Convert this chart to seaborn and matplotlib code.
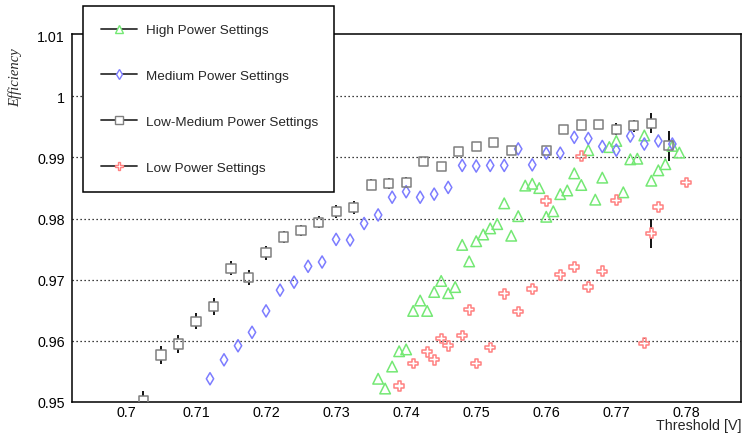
import numpy as np
import pandas as pd
import matplotlib
matplotlib.use("Agg")
import matplotlib.pyplot as plt
import seaborn as sns
from matplotlib.lines import Line2D
from matplotlib.ticker import MultipleLocator, FixedLocator

# ---------------- data ----------------
series_labels = ["High Power Settings", "Medium Power Settings",
                 "Low-Medium Power Settings", "Low Power Settings"]

high_x = [0.736, 0.737, 0.738, 0.739, 0.740, 0.741, 0.742, 0.743, 0.744, 0.745,
          0.746, 0.747, 0.748, 0.749, 0.750, 0.751, 0.752, 0.753, 0.754, 0.755,
          0.756, 0.757, 0.758, 0.759, 0.760, 0.761, 0.762, 0.763, 0.764, 0.765,
          0.766, 0.767, 0.768, 0.769, 0.770, 0.771, 0.772, 0.773, 0.774, 0.775,
          0.776, 0.777, 0.778, 0.779]
high_eff = [0.9538, 0.9522, 0.9558, 0.9583, 0.9586, 0.9649, 0.9666, 0.9649, 0.9680, 0.9698,
            0.9678, 0.9688, 0.9757, 0.9730, 0.9763, 0.9774, 0.9784, 0.9791, 0.9825, 0.9772,
            0.9804, 0.9854, 0.9857, 0.9850, 0.9803, 0.9812, 0.9840, 0.9846, 0.9874, 0.9855,
            0.9912, 0.9831, 0.9867, 0.9917, 0.9927, 0.9843, 0.9897, 0.9898, 0.9936, 0.9862,
            0.9879, 0.9889, 0.9919, 0.9908]

med_x = [0.712, 0.714, 0.716, 0.718, 0.720, 0.722, 0.724, 0.726, 0.728, 0.730,
         0.732, 0.734, 0.736, 0.738, 0.740, 0.742, 0.744, 0.746, 0.748, 0.750,
         0.752, 0.754, 0.756, 0.758, 0.760, 0.762, 0.764, 0.766, 0.768, 0.770,
         0.772, 0.774, 0.776, 0.778]
med_eff = [0.9538, 0.9569, 0.9592, 0.9614, 0.9649, 0.9683, 0.9696, 0.9722, 0.9729, 0.9766,
           0.9765, 0.9792, 0.9806, 0.9835, 0.9844, 0.9835, 0.9840, 0.9851, 0.9887, 0.9886,
           0.9887, 0.9887, 0.9914, 0.9888, 0.9907, 0.9907, 0.9933, 0.9931, 0.9918, 0.9912,
           0.9935, 0.9922, 0.9927, 0.9922]

lowmed_x = [0.7025, 0.7050, 0.7075, 0.7100, 0.7125, 0.7150, 0.7175, 0.7200, 0.7225, 0.7250,
            0.7275, 0.7300, 0.7325, 0.7350, 0.7375, 0.7400, 0.7425, 0.7450, 0.7475, 0.7500,
            0.7525, 0.7550, 0.7600, 0.7625, 0.7650, 0.7675, 0.7700, 0.7725, 0.7750, 0.7775]
lowmed_eff = [0.9502, 0.9577, 0.9595, 0.9632, 0.9656, 0.9719, 0.9704, 0.9744, 0.9770, 0.9781,
              0.9794, 0.9812, 0.9818, 0.9855, 0.9858, 0.9859, 0.9894, 0.9885, 0.9910, 0.9918,
              0.9924, 0.9912, 0.9911, 0.9946, 0.9953, 0.9954, 0.9946, 0.9952, 0.9956, 0.9919]
lowmed_err = [0.0016, 0.0015, 0.0015, 0.0013, 0.0014, 0.0011, 0.0012, 0.0011, 0.0010, 0.0009,
              0.0010, 0.0011, 0.0011, 0.0009, 0.0009, 0.0009, 0.0007, 0.0004, 0.0007, 0.0004,
              0.0004, 0.0004, 0.0006, 0.0004, 0.0004, 0.0004, 0.0010, 0.0010, 0.0016, 0.0025]

low_x = [0.739, 0.741, 0.743, 0.744, 0.745, 0.746, 0.748, 0.749, 0.750, 0.752,
         0.754, 0.756, 0.758, 0.760, 0.762, 0.764, 0.765, 0.766, 0.768, 0.770,
         0.774, 0.775, 0.776, 0.780]
low_eff = [0.9526, 0.9563, 0.9582, 0.9569, 0.9604, 0.9592, 0.9609, 0.9651, 0.9563, 0.9589,
           0.9677, 0.9648, 0.9685, 0.9829, 0.9708, 0.9721, 0.9902, 0.9688, 0.9714, 0.9830,
           0.9596, 0.9776, 0.9819, 0.9859]
low_err = [0.0004, 0.0004, 0.0004, 0.0004, 0.0004, 0.0004, 0.0004, 0.0004, 0.0004, 0.0004,
           0.0004, 0.0004, 0.0004, 0.0004, 0.0004, 0.0004, 0.0004, 0.0004, 0.0004, 0.0004,
           0.0008, 0.0024, 0.0004, 0.0004]

x_ticks = [0.70, 0.71, 0.72, 0.73, 0.74, 0.75, 0.76, 0.77, 0.78]
x_tick_labels = ["0.7", "0.71", "0.72", "0.73", "0.74", "0.75", "0.76", "0.77", "0.78"]
y_ticks = [0.95, 0.96, 0.97, 0.98, 0.99, 1.00, 1.01]
y_tick_labels = ["0.95", "0.96", "0.97", "0.98", "0.99", "1", "1.01"]
grid_levels = [0.96, 0.97, 0.98, 0.99, 1.00]

# ---------------- style ----------------
sns.set_style("white")
plt.rcParams["font.family"] = ["Liberation Sans", "DejaVu Sans"]

colors = ["#74e874", "#7c7cff", "#7f7f7f", "#ff8080"]
markers = ["^", "d", "s", "P"]
msize = [7.6, 6.2, 6.6, 7.0]   # points (marker size)

frames = []
for lab, xs, ys in zip(series_labels, [high_x, med_x, lowmed_x, low_x],
                       [high_eff, med_eff, lowmed_eff, low_eff]):
    frames.append(pd.DataFrame({"threshold": xs, "efficiency": ys, "setting": lab}))
df = pd.concat(frames, ignore_index=True)

fig = plt.figure(figsize=(7.43, 4.35), dpi=100)
ax = fig.add_axes([72 / 743, 1 - 403 / 435, (741 - 72) / 743, (403 - 35) / 435])

xlim = (0.6923, 0.7878)
ylim = (0.95, 1.0102)
ax.set_xlim(*xlim)
ax.set_ylim(*ylim)

# dotted horizontal grid
for g in grid_levels:
    ax.axhline(g, color="black", lw=0.9, ls=(0, (1, 2.2)), zorder=1)

# error bars (only drawn outside the marker, ROOT style)
ax_h_px = (403 - 35)
dy_per_px = (ylim[1] - ylim[0]) / ax_h_px
for xs, ys, es, half_px in [(lowmed_x, lowmed_eff, lowmed_err, 4.6),
                             (low_x, low_eff, low_err, 4.6)]:
    xs = np.asarray(xs); ys = np.asarray(ys); es = np.asarray(es)
    half = half_px * dy_per_px
    m = es > half
    ax.vlines(xs[m], ys[m] + half, ys[m] + es[m], color="black", lw=1.3, zorder=3)
    ax.vlines(xs[m], ys[m] - es[m], ys[m] - half, color="black", lw=1.3, zorder=3)

for lab, col, mk, ms in zip(series_labels, colors, markers, msize):
    sub = df[df["setting"] == lab]
    sns.scatterplot(data=sub, x="threshold", y="efficiency", ax=ax, marker=mk,
                    s=ms ** 2, facecolor="none", edgecolor=col, linewidth=1.1,
                    zorder=4, legend=False)

ax.set_xlabel("")
ax.set_ylabel("")

ax.xaxis.set_major_locator(FixedLocator(x_ticks))
ax.set_xticklabels(x_tick_labels)
ax.xaxis.set_minor_locator(MultipleLocator(0.002))
ax.yaxis.set_major_locator(FixedLocator(y_ticks))
ax.set_yticklabels(y_tick_labels)
ax.yaxis.set_minor_locator(MultipleLocator(0.002))

ax.tick_params(axis="both", which="both", direction="in", width=1.0,
               labelsize=10.3, colors="black")
ax.tick_params(axis="x", which="major", length=10, pad=2)
ax.tick_params(axis="x", which="minor", length=5)
ax.tick_params(axis="y", which="major", length=10, pad=5)
ax.tick_params(axis="y", which="minor", length=8)
ax.tick_params(top=False, right=False, which="both")

for sp in ax.spines.values():
    sp.set_color("black")
    sp.set_linewidth(1.1)
    sp.set_visible(True)

fig.text(741 / 743, 1 - 426 / 435, "Threshold [V]", ha="right", va="center",
         fontsize=10.3)
fig.text(15 / 743, 1 - 78 / 435, "Efficiency", rotation=90, ha="center",
         va="center", fontsize=10.5, style="italic",
         family=["Liberation Serif", "DejaVu Serif"])

handles = [Line2D([0], [0], color="#333333", lw=1.3, marker=mk, markersize=ms * 0.85,
                  markerfacecolor="white", markeredgecolor=col, markeredgewidth=1.0)
           for col, mk, ms in zip(colors, markers, msize)]
leg = ax.legend(handles, series_labels, loc="upper left",
                bbox_to_anchor=(83 / 743, 1 - 7 / 435, (334 - 83) / 743, 0.0),
                bbox_transform=fig.transFigure, mode="expand",
                fontsize=9.7, frameon=True, fancybox=False, borderpad=1.34,
                labelspacing=2.47, handlelength=2.68, handletextpad=0.62,
                borderaxespad=0.0)
leg.get_frame().set_edgecolor("black")
leg.get_frame().set_linewidth(1.1)
leg.get_frame().set_facecolor("white")
leg.get_frame().set_alpha(1.0)
leg.set_zorder(10)

fig.savefig("out.png", dpi=100)
